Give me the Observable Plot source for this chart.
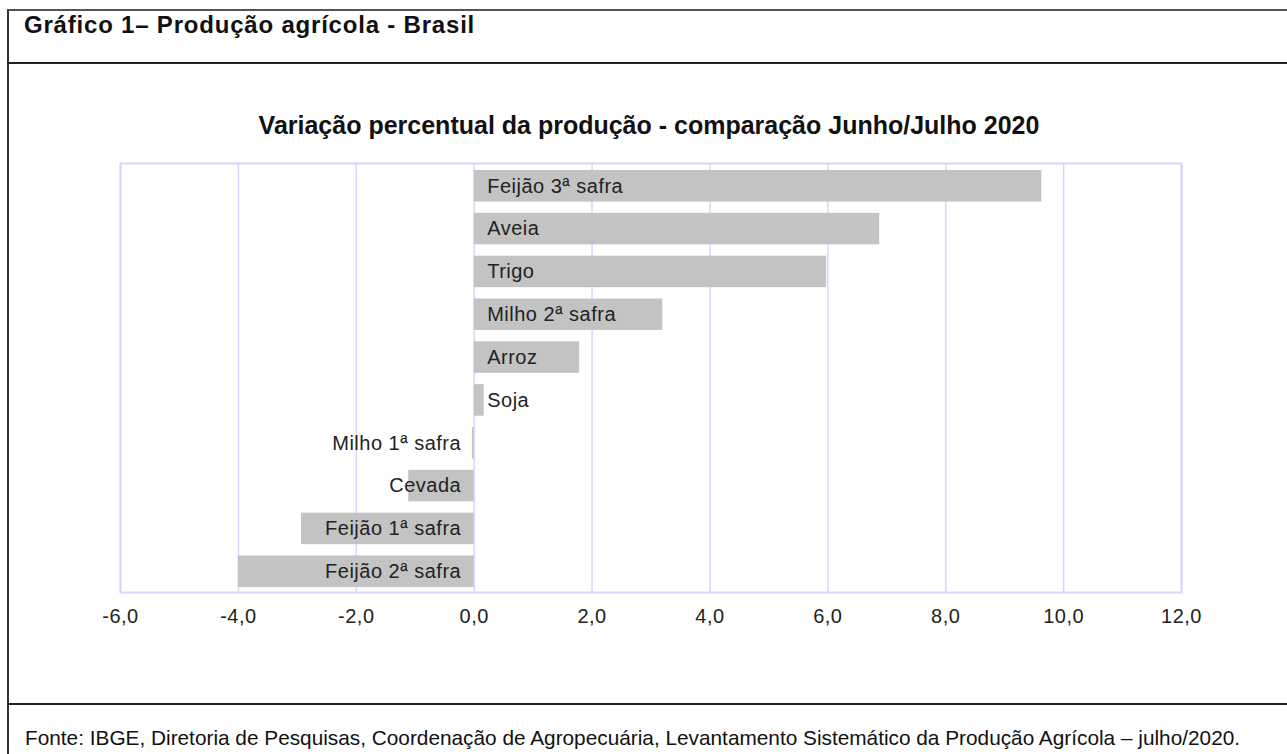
<!DOCTYPE html>
<html>
<head>
<meta charset="utf-8">
<script src="https://cdn.jsdelivr.net/npm/d3@7"></script>
<script src="https://cdn.jsdelivr.net/npm/@observablehq/plot@0.6"></script>
<style>
  html, body { margin: 0; padding: 0; background: #fff; width: 1287px; height: 754px; overflow: hidden; }
  body { position: relative; font-family: "Liberation Sans", Arial, sans-serif; }
  #box { position: absolute; left: 7px; top: 9px; width: 1290px; height: 760px; border-left: 2px solid #333; border-top: 2px solid #555; }
  #head { position: absolute; left: 7px; top: 62px; width: 1290px; border-top: 2px solid #222; }
  #foot { position: absolute; left: 7px; top: 703px; width: 1290px; border-top: 2px solid #222; }
  #htitle { position: absolute; left: 24px; top: 11px; font-size: 24px; letter-spacing: 0.8px; font-weight: bold; color: #111; white-space: nowrap; }
  #ctitle { position: absolute; left: 0; width: 1298px; top: 111px; text-align: center; font-size: 25px; font-weight: bold; color: #111; white-space: nowrap; }
  #source { position: absolute; left: 25px; top: 726px; font-size: 20.8px; color: #111; white-space: nowrap; }
  #chart { position: absolute; left: 0; top: 150px; }
</style>
</head>
<body>
<div id="box"></div>
<div id="head"></div>
<div id="foot"></div>
<div id="htitle">Gráfico 1– Produção agrícola - Brasil</div>
<div id="ctitle">Variação percentual da produção - comparação Junho/Julho 2020</div>
<div id="chart"></div>
<div id="source">Fonte: IBGE, Diretoria de Pesquisas, Coordenação de Agropecuária, Levantamento Sistemático da Produção Agrícola – julho/2020.</div>
<script>
const crops = ["Feijão 3ª safra", "Aveia", "Trigo", "Milho 2ª safra", "Arroz", "Soja", "Milho 1ª safra", "Cevada", "Feijão 1ª safra", "Feijão 2ª safra"];
const variation = [9.63, 6.88, 5.98, 3.20, 1.79, 0.17, -0.03, -1.11, -2.93, -4.00];
const xTicks = [-6, -4, -2, 0, 2, 4, 6, 8, 10, 12];

const data = crops.map((c, i) => ({crop: c, value: variation[i]}));
const fmt = d => d3.format(".1f")(d).replace("−", "-").replace(".", ",");

const chart = Plot.plot({
  width: 1287,
  height: 500,
  marginLeft: 120,
  marginRight: 106,
  marginTop: 13,
  marginBottom: 58,
  style: {fontFamily: "'Liberation Sans', Arial, sans-serif", fontSize: "20px", color: "#222", background: "transparent"},
  x: {domain: [-6, 12], ticks: xTicks, tickFormat: fmt, tickSize: 0, tickPadding: 16, label: null},
  y: {domain: crops, axis: null, paddingInner: 0.264, paddingOuter: 0, insetTop: 7, insetBottom: 5, round: false},
  marks: [
    Plot.ruleX(xTicks, {stroke: "#d6d6ff", strokeWidth: 1.5}),
    Plot.frame({stroke: "#d6d6ff", strokeWidth: 2}),
    Plot.barX(data, {x: "value", y: "crop", fill: "#c3c3c3"}),
    Plot.text(data.filter(d => d.value >= 0), {x: 0, y: "crop", text: "crop", textAnchor: "start", dx: 13, fill: "#222", fontSize: 20}),
    Plot.text(data.filter(d => d.value < 0), {x: 0, y: "crop", text: "crop", textAnchor: "end", dx: -13, fill: "#222", fontSize: 20})
  ]
});
chart.querySelectorAll("text").forEach(t => t.style.letterSpacing = "0.5px");
document.getElementById("chart").appendChild(chart);
</script>
</body>
</html>
